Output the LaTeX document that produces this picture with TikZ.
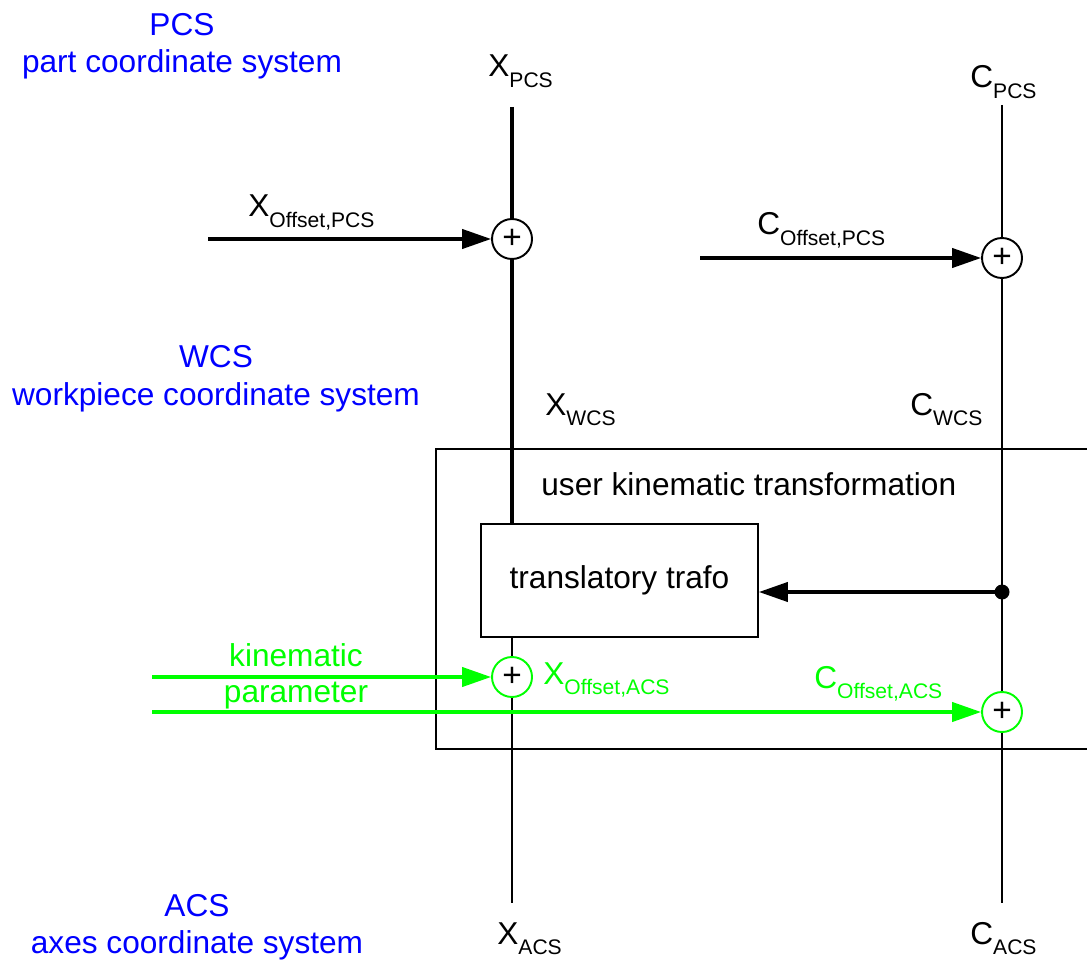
\documentclass[tikz,border=0pt]{standalone}
\usepackage{fontspec}
\setmainfont{Liberation Sans}
\usetikzlibrary{arrows.meta}

\definecolor{csblue}{RGB}{0,0,255}
\definecolor{kingreen}{RGB}{0,255,0}

% lowered index behind an axis letter
\newcommand{\lowidx}[1]{\raisebox{-6pt}{\fontsize{12}{14}\selectfont #1}}

\tikzset{
  lbl/.style={font=\fontsize{18}{21}\selectfont, inner sep=0pt},
  cslbl/.style={lbl, text=csblue},
  kinlbl/.style={lbl, text=kingreen},
  sumpt/.style={circle, draw, line width=1.1pt, fill=white, minimum size=0.8cm,
    inner sep=0pt, font=\fontsize{19}{19}\selectfont},
  axisthick/.style={line width=1.8pt},
  axisthin/.style={line width=1.1pt},
  flow/.style={line width=1.8pt, -{Triangle[length=16.5pt, width=11pt]}},
  kinflow/.style={flow, draw=kingreen, fill=kingreen}
}

\begin{document}
\begin{tikzpicture}[x=0.02cm, y=-0.02cm]

\path[use as bounding box, clip] (0,0) rectangle (1087,962);

% Coordinate system names
\node[cslbl, anchor=base] (pcs) at (182,36) {PCS};
\node[cslbl, anchor=base] (pcsname) at (182,73) {part coordinate system};
\node[cslbl, anchor=base] (wcs) at (216,367) {WCS};
\node[cslbl, anchor=base] (wcsname) at (216,405) {workpiece coordinate system};
\node[cslbl, anchor=base] (acs) at (197,916) {ACS};
\node[cslbl, anchor=base] (acsname) at (197,953) {axes coordinate system};

% User kinematic transformation (runs off to the right)
\draw[line width=1.1pt] (436,449) rectangle (1120,749);
\node[lbl, anchor=base west] (ukt) at (541,495) {user kinematic transformation};
\node[draw, line width=1.1pt, fill=white, minimum width=5.54cm, minimum height=2.26cm,
  font=\fontsize{18}{21}\selectfont] (trafo) at (619.5,580.5) {translatory trafo};

% Summation points
\node[sumpt] (sx1) at (512,239) {+};
\node[sumpt] (sc1) at (1002,258) {+};
\node[sumpt, draw=kingreen] (sx2) at (512,677) {+};
\node[sumpt, draw=kingreen] (sc2) at (1002,712) {+};
\fill (1002,592) circle (7.5) coordinate (dot);

% Free ends
\coordinate (xtop) at (512,107);
\coordinate (ctop) at (1002,105);
\coordinate (xbot) at (512,903);
\coordinate (cbot) at (1002,903);
\coordinate (xoffin) at (208,239);
\coordinate (coffin) at (700,258);
\coordinate (kinin1) at (152,677);
\coordinate (kinin2) at (152,712);

% X axis
\draw[axisthick] (xtop) -- (sx1);
\draw[axisthick] (sx1) -- (trafo.north -| sx1);
\draw[axisthin] (trafo.south -| sx2) -- (sx2);
\draw[axisthin] (sx2) -- (xbot);

% C axis
\draw[axisthin] (ctop) -- (sc1);
\draw[axisthin] (sc1) -- (dot) -- (sc2);
\draw[axisthin] (sc2) -- (cbot);

% Offsets and feedback
\draw[flow] (xoffin) -- (sx1);
\draw[flow] (coffin) -- (sc1);
\draw[flow] (dot) -- (trafo.east |- dot);
\draw[kinflow] (kinin1) -- (sx2);
\draw[kinflow] (kinin2) -- (sc2);

% Axis labels
\node[lbl, anchor=base west] (xpcs) at (488,77) {X\lowidx{PCS}};
\node[lbl, anchor=base west] (cpcs) at (970,88) {C\lowidx{PCS}};
\node[lbl, anchor=base west] (xwcs) at (545,415) {X\lowidx{WCS}};
\node[lbl, anchor=base west] (cwcs) at (910,415) {C\lowidx{WCS}};
\node[lbl, anchor=base west] (xacs) at (497,944) {X\lowidx{ACS}};
\node[lbl, anchor=base west] (cacs) at (970,944) {C\lowidx{ACS}};

% Offset labels
\node[lbl, anchor=base west] (xoffpcs) at (248,217) {X\lowidx{Offset,PCS}};
\node[lbl, anchor=base west] (coffpcs) at (757,235) {C\lowidx{Offset,PCS}};
\node[kinlbl, anchor=base west] (xoffacs) at (543,684) {X\lowidx{Offset,ACS}};
\node[kinlbl, anchor=base west] (coffacs) at (814,688) {C\lowidx{Offset,ACS}};
\node[kinlbl, anchor=base] (kinA) at (296,666) {kinematic};
\node[kinlbl, anchor=base] (kinB) at (296,702) {parameter};

\end{tikzpicture}
\end{document}
